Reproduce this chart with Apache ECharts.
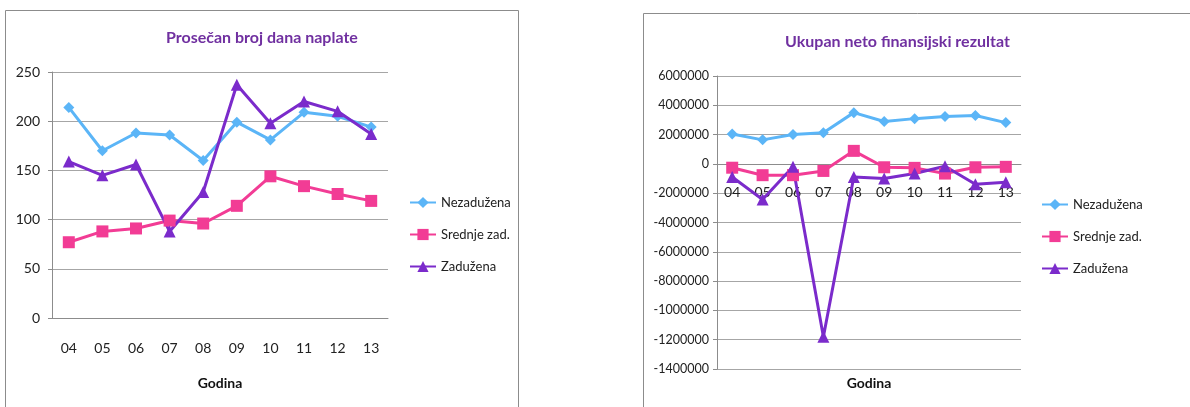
<!DOCTYPE html>
<html><head><meta charset="utf-8">
<script src="https://cdn.jsdelivr.net/npm/echarts@6/dist/echarts.min.js"></script>
<style>html,body{margin:0;padding:0;background:#fff}#c{width:1190px;height:407px}</style>
</head><body><div id="c"></div>
<script>
const categories = ['04','05','06','07','08','09','10','11','12','13'];
const seriesNames = ['Nezadužena','Srednje zad.','Zadužena'];
// Left chart: Prosečan broj dana naplate
const leftNez = [214, 170, 188, 186, 160, 199, 181, 209, 205, 194];
const leftSre = [77, 88, 91, 99, 96, 114, 144, 134, 126, 119];
const leftZad = [159, 145, 156, 88, 128, 237, 198, 220, 210, 187];
// Right chart: Ukupan neto finansijski rezultat
const rightNez = [2040000, 1640000, 2000000, 2130000, 3500000, 2890000, 3090000, 3230000, 3300000, 2820000];
const rightSre = [-260000, -770000, -770000, -480000, 890000, -230000, -270000, -660000, -230000, -200000];
const rightZad = [-890000, -2430000, -200000, -11800000, -890000, -1000000, -660000, -160000, -1390000, -1250000];
const rightTickLabels = ['6000000','4000000','2000000','0','-2000000','-4000000','-6000000','-8000000','-1000000','-1200000','-1400000'];

const FONT = "Lato, 'Liberation Sans', sans-serif";
const colors = ['#5BB5F7', '#F23C95', '#7B2BCB'];
const symbols = ['diamond', 'rect', 'triangle'];
const symbolSizes = [11, 12, 12];
const grid = '#A6A6A6';

function mkSeries(data, i, idx) {
  return {
    type: 'line', name: seriesNames[i], data: data,
    xAxisIndex: idx, yAxisIndex: idx,
    symbol: symbols[i], symbolSize: symbolSizes[i],
    lineStyle: {width: 3, color: colors[i]},
    itemStyle: {color: colors[i]},
    animation: false
  };
}

const chart = echarts.init(document.getElementById('c'), null, {renderer: 'canvas'});
chart.setOption({
  backgroundColor: '#fff',
  textStyle: {fontFamily: FONT},
  color: colors,
  graphic: [
    {type: 'rect', shape: {x: 5.5, y: 10.5, width: 513, height: 420}, style: {fill: 'none', stroke: '#8C8C8C', lineWidth: 1}},
    {type: 'rect', shape: {x: 643.5, y: 13.5, width: 600, height: 420}, style: {fill: 'none', stroke: '#8C8C8C', lineWidth: 1}}
  ],
  title: [
    {text: 'Prosečan broj dana naplate', left: 161, top: 25, textStyle: {fontFamily: FONT, fontSize: 16, fontWeight: 'bold', color: '#7030A0'}},
    {text: 'Ukupan neto finansijski rezultat', left: 780, top: 29, textStyle: {fontFamily: FONT, fontSize: 16, fontWeight: 'bold', color: '#7030A0'}}
  ],
  legend: [
    {data: seriesNames, orient: 'vertical', left: 409, top: 196, padding: 0, itemWidth: 26, itemHeight: 14, itemGap: 19,
     textStyle: {fontFamily: FONT, fontSize: 13, color: '#222'}},
    {data: seriesNames, orient: 'vertical', left: 1041, top: 198, padding: 0, itemWidth: 26, itemHeight: 14, itemGap: 19,
     textStyle: {fontFamily: FONT, fontSize: 13, color: '#222'}}
  ],
  grid: [
    {left: 52, right: 802, top: 72, bottom: 89, outerBoundsMode: 'none', containLabel: false},
    {left: 717, right: 169, top: 76, bottom: 38, outerBoundsMode: 'none', containLabel: false}
  ],
  xAxis: [
    {type: 'category', gridIndex: 0, data: categories, boundaryGap: true,
     axisLine: {lineStyle: {color: '#8C8C8C'}}, axisTick: {length: 5, lineStyle: {color: '#8C8C8C'}},
     axisLabel: {margin: 23, fontSize: 14, color: '#222', fontFamily: FONT},
     name: 'Godina', nameLocation: 'middle', nameGap: 58,
     nameTextStyle: {fontFamily: FONT, fontSize: 14, fontWeight: 'bold', color: '#111'}},
    {type: 'category', gridIndex: 1, data: categories, boundaryGap: true, position: 'bottom', offset: -205,
     axisLine: {onZero: false, lineStyle: {color: '#8C8C8C'}}, axisTick: {length: 5, lineStyle: {color: '#8C8C8C'}},
     axisLabel: {margin: 21, fontSize: 14, color: '#222', fontFamily: FONT},
     name: 'Godina', nameLocation: 'middle', nameGap: 212,
     nameTextStyle: {fontFamily: FONT, fontSize: 14, fontWeight: 'bold', color: '#111'}}
  ],
  yAxis: [
    {type: 'value', gridIndex: 0, min: 0, max: 250, interval: 50,
     axisLine: {show: true, lineStyle: {color: '#8C8C8C'}}, axisTick: {show: true, length: 4, lineStyle: {color: '#8C8C8C'}},
     splitLine: {lineStyle: {color: grid, width: 1}},
     axisLabel: {margin: 12, fontSize: 14, color: '#222', fontFamily: FONT}},
    {type: 'value', gridIndex: 1, min: -14000000, max: 6000000, interval: 2000000,
     axisLine: {show: true, onZero: false, lineStyle: {color: '#8C8C8C'}}, axisTick: {show: true, length: 4, lineStyle: {color: '#8C8C8C'}},
     splitLine: {lineStyle: {color: grid, width: 1}},
     axisLabel: {margin: 8, fontSize: 12.5, color: '#222', fontFamily: FONT,
       formatter: v => rightTickLabels[Math.round((6000000 - v) / 2000000)]}}
  ],
  series: [
    mkSeries(leftNez, 0, 0), mkSeries(leftSre, 1, 0), mkSeries(leftZad, 2, 0),
    mkSeries(rightNez, 0, 1), mkSeries(rightSre, 1, 1), mkSeries(rightZad, 2, 1)
  ]
});
</script></body></html>
